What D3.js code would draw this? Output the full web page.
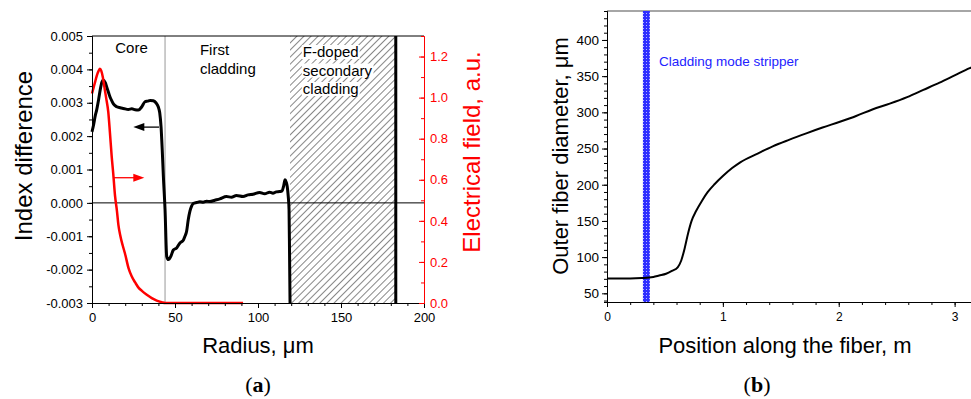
<!DOCTYPE html>
<html>
<head>
<meta charset="utf-8">
<script src="https://cdn.jsdelivr.net/npm/d3@7"></script>
<style>
  body { margin: 0; background: #fff; }
  svg { display: block; font-family: "Liberation Sans", Arial, sans-serif; }
  .tick text { font-family: "Liberation Sans", Arial, sans-serif; }
</style>
</head>
<body>
<div id="chart"></div>
<script>
'use strict';

// ---- panel (a): index profile and mode field ----
const radius = [0, 1, 2, 2.8, 4, 5, 6, 6.8, 8, 9, 10, 10.8, 12, 13, 14.9, 17, 19, 21.9, 24, 26, 27.9, 30, 31.9, 33.5, 35, 36.9, 38.5, 39.9, 40.8, 41.6, 42.3, 43, 44, 45, 46, 47.5, 49, 51, 53, 55, 56, 57, 58, 59, 60, 61, 63, 65, 67, 69, 71, 74, 77, 81, 84, 87, 91, 94, 97, 101, 104, 107, 109, 111, 113, 114.5, 115.5, 116.3, 117, 117.6, 118.2, 118.7, 119, 119.3];
const indexDiff = [0.00213, 0.00235, 0.00262, 0.00278, 0.00310, 0.00340, 0.00362, 0.00368, 0.00360, 0.00345, 0.00330, 0.00318, 0.00305, 0.00296, 0.00288, 0.00285, 0.00283, 0.00280, 0.00282, 0.00279, 0.00278, 0.00288, 0.00303, 0.00305, 0.00307, 0.00306, 0.00300, 0.00288, 0.00270, 0.00228, 0.00160, 0.00079, -0.00020, -0.00160, -0.00170, -0.00160, -0.00141, -0.00135, -0.00120, -0.00112, -0.00100, -0.00085, -0.00050, -0.00025, -0.00010, -0.00002, 0.00001, 0.00003, 0.00002, 0.00005, 0.00004, 0.00008, 0.00012, 0.00019, 0.00017, 0.00022, 0.00019, 0.00024, 0.00026, 0.00031, 0.00027, 0.00032, 0.00029, 0.00033, 0.00034, 0.00036, 0.00052, 0.00069, 0.00062, 0.00049, 0.00020, -0.00020, -0.00150, -0.00300];

const fieldRadius = [0, 1, 2, 3, 4, 4.8, 5.6, 6.5, 7.5, 8.5, 9.8, 10.8, 11.8, 12.8, 13.9, 15, 15.9, 17, 18.5, 19.9, 22, 23.9, 26, 28, 29.9, 33, 36, 39, 42, 44, 50, 60, 70, 80, 91];
const fieldValue = [1.02, 1.05, 1.08, 1.11, 1.13, 1.14, 1.13, 1.10, 1.05, 1.00, 0.93, 0.83, 0.72, 0.63, 0.52, 0.45, 0.38, 0.33, 0.28, 0.24, 0.17, 0.13, 0.10, 0.075, 0.06, 0.04, 0.024, 0.012, 0.004, 0, 0, 0, 0, 0, 0];

const coreEdge = 44;
const fDopedRegion = [119.3, 183];
const radiusTicks = [0, 50, 100, 150, 200];
const indexTicks = [-0.003, -0.002, -0.001, 0, 0.001, 0.002, 0.003, 0.004, 0.005];
const fieldTicks = [0, 0.2, 0.4, 0.6, 0.8, 1.0, 1.2];
// arrows: [r from, r to, value]
const blackArrow = [40.4, 24.9, 0.00227];
const redArrow = [12.8, 31.5, 0.61];

// ---- panel (b): taper diameter ----
const position = [0, 0.1, 0.2, 0.3, 0.4, 0.45, 0.51, 0.56, 0.61, 0.64, 0.67, 0.70, 0.73, 0.77, 0.82, 0.87, 0.93, 1.0, 1.08, 1.15, 1.3, 1.43, 1.57, 1.72, 1.86, 2.01, 2.15, 2.29, 2.44, 2.59, 2.73, 2.87, 3.0, 3.13, 3.16];
const diameter = [70.5, 70.5, 70.5, 71, 72.5, 74.5, 77, 81, 86, 95, 112, 133, 150, 164, 178, 190, 201, 212, 223, 231, 243, 253, 262, 271, 279, 287, 295, 304, 312, 321, 331, 341, 351, 361, 363];
const stripperRegion = [0.31, 0.37];
const positionTicks = [0, 1, 2, 3];
const diameterTicks = [50, 100, 150, 200, 250, 300, 350, 400];

const svg = d3.select("#chart").append("svg")
    .attr("width", 971)
    .attr("height", 399);

const defs = svg.append("defs");

const hatch = defs.append("pattern")
    .attr("id", "hatch")
    .attr("patternUnits", "userSpaceOnUse")
    .attr("width", 5).attr("height", 5)
    .attr("patternTransform", "rotate(45)");
hatch.append("rect").attr("width", 5).attr("height", 5).attr("fill", "#fff");
hatch.append("line")
    .attr("x1", 0).attr("y1", 0).attr("x2", 0).attr("y2", 5)
    .attr("stroke", "#222").attr("stroke-width", 1.1);

const checker = defs.append("pattern")
    .attr("id", "checker")
    .attr("patternUnits", "userSpaceOnUse")
    .attr("width", 3).attr("height", 3);
checker.append("rect").attr("width", 3).attr("height", 3).attr("fill", "#2f2fff");
checker.append("rect").attr("x", 1).attr("y", 1).attr("width", 1).attr("height", 1).attr("fill", "#b8b8ff");

function minorTicks(lo, hi, step) {
    let out = [];
    let n = Math.round((hi - lo) / step);
    for (let i = 0; i <= n; i++) out.push(+(lo + i * step).toFixed(6));
    return out;
}

// =================== panel (a) ===================
const xA = d3.scaleLinear().domain([0, 200]).range([92, 424]);
const yA = d3.scaleLinear().domain([-0.003, 0.005]).range([303, 36]);
const yE = d3.scaleLinear().domain([0, 1.3]).range([303, 36]);

const gA = svg.append("g");

// hatched F-doped region
gA.append("rect")
    .attr("x", xA(fDopedRegion[0]))
    .attr("y", yA(0.005))
    .attr("width", xA(fDopedRegion[1]) - xA(fDopedRegion[0]))
    .attr("height", yA(-0.003) - yA(0.005))
    .attr("fill", "url(#hatch)");

// core boundary
gA.append("line")
    .attr("x1", xA(coreEdge)).attr("x2", xA(coreEdge))
    .attr("y1", yA(0.005)).attr("y2", yA(-0.003))
    .attr("stroke", "#999").attr("stroke-width", 1);

// zero line and top frame
gA.append("line")
    .attr("x1", xA(0)).attr("x2", xA(200))
    .attr("y1", yA(0)).attr("y2", yA(0))
    .attr("stroke", "#000").attr("stroke-width", 1);
gA.append("line")
    .attr("x1", xA(0)).attr("x2", xA(200))
    .attr("y1", yA(0.005)).attr("y2", yA(0.005))
    .attr("stroke", "#000").attr("stroke-width", 1);

// region labels
gA.append("text").attr("x", xA(14)).attr("y", 53)
    .attr("font-size", 15).text("Core");
gA.append("text").attr("x", xA(65)).attr("y", 55)
    .attr("font-size", 15).text("First");
gA.append("text").attr("x", xA(65)).attr("y", 74)
    .attr("font-size", 15).text("cladding");

["F-doped", "secondary", "cladding"].forEach(function (t, i) {
    let txt = gA.append("text")
        .attr("x", xA(127)).attr("y", 57 + i * 18.5)
        .attr("font-size", 15).text(t);
    let bb = txt.node().getBBox();
    gA.insert("rect", function () { return txt.node(); })
        .attr("x", bb.x - 1).attr("y", bb.y + 2)
        .attr("width", bb.width + 2).attr("height", bb.height - 3)
        .attr("fill", "#fff");
});

// curves
const lineIdx = d3.line()
    .x(function (d, i) { return xA(radius[i]); })
    .y(function (d) { return yA(d); })
    .curve(d3.curveMonotoneX);
gA.append("path")
    .attr("d", lineIdx(indexDiff))
    .attr("fill", "none").attr("stroke", "#000").attr("stroke-width", 3);

gA.append("line")
    .attr("x1", xA(fDopedRegion[1])).attr("x2", xA(fDopedRegion[1]))
    .attr("y1", yA(-0.003)).attr("y2", yA(0.005))
    .attr("stroke", "#000").attr("stroke-width", 3);

const lineField = d3.line()
    .x(function (d, i) { return xA(fieldRadius[i]); })
    .y(function (d) { return yE(d); })
    .curve(d3.curveMonotoneX);
gA.append("path")
    .attr("d", lineField(fieldValue))
    .attr("fill", "none").attr("stroke", "#ff0000").attr("stroke-width", 2.5);

// arrows
function arrow(g, x1, x2, y, color) {
    let dir = x2 > x1 ? 1 : -1;
    g.append("line")
        .attr("x1", x1).attr("x2", x2 - dir * 6)
        .attr("y1", y).attr("y2", y)
        .attr("stroke", color).attr("stroke-width", 1.3);
    g.append("path")
        .attr("d", "M" + x2 + "," + y + "L" + (x2 - dir * 11) + "," + (y - 4) + "L" + (x2 - dir * 11) + "," + (y + 4) + "Z")
        .attr("fill", color);
}
arrow(gA, xA(blackArrow[0]), xA(blackArrow[1]), yA(blackArrow[2]), "#000");
arrow(gA, xA(redArrow[0]), xA(redArrow[1]), yE(redArrow[2]), "#ff0000");

// axes
function styleAxis(g, color) {
    g.selectAll("path").attr("stroke", color);
    g.selectAll("line").attr("stroke", color);
    g.selectAll("text").attr("fill", color);
}

const axA_xMinor = gA.append("g").attr("transform", "translate(0," + yA(-0.003) + ")")
    .call(d3.axisBottom(xA).tickValues(minorTicks(0, 200, 10)).tickSize(3).tickFormat(""));
styleAxis(axA_xMinor, "#000");
const axA_x = gA.append("g").attr("transform", "translate(0," + yA(-0.003) + ")")
    .call(d3.axisBottom(xA).tickValues(radiusTicks).tickSize(5).tickSizeOuter(0).tickPadding(5).tickFormat(d3.format("d")));
axA_x.selectAll("text").attr("font-size", 13);
styleAxis(axA_x, "#000");

const axA_yMinor = gA.append("g").attr("transform", "translate(" + xA(0) + ",0)")
    .call(d3.axisLeft(yA).tickValues(minorTicks(-0.003, 0.005, 0.0005)).tickSize(3).tickFormat(""));
styleAxis(axA_yMinor, "#000");
const axA_y = gA.append("g").attr("transform", "translate(" + xA(0) + ",0)")
    .call(d3.axisLeft(yA).tickValues(indexTicks).tickSize(5).tickSizeOuter(0).tickPadding(4)
        .tickFormat(function (d) { return d3.format(".3f")(d).replace("−", "-"); }));
axA_y.selectAll("text").attr("font-size", 13);
styleAxis(axA_y, "#000");

const axA_rMinor = gA.append("g").attr("transform", "translate(" + xA(200) + ",0)")
    .call(d3.axisRight(yE).tickValues(minorTicks(0, 1.3, 0.1)).tickSize(-3).tickFormat(""));
styleAxis(axA_rMinor, "#ff0000");
const axA_r = gA.append("g").attr("transform", "translate(" + xA(200) + ",0)")
    .call(d3.axisRight(yE).tickValues(fieldTicks).tickSize(-5).tickSizeOuter(0).tickPadding(6).tickFormat(d3.format(".1f")));
axA_r.selectAll("text").attr("font-size", 13);
styleAxis(axA_r, "#ff0000");

// titles
gA.append("text")
    .attr("x", xA(100)).attr("y", 353)
    .attr("text-anchor", "middle").attr("font-size", 22)
    .text("Radius, μm");
gA.append("text")
    .attr("transform", "translate(32," + 156 + ") rotate(-90)")
    .attr("text-anchor", "middle").attr("font-size", 24)
    .text("Index difference");
gA.append("text")
    .attr("transform", "translate(480," + 152 + ") rotate(-90)")
    .attr("text-anchor", "middle").attr("font-size", 24)
    .attr("fill", "#ff0000")
    .text("Electrical field, a.u.");
gA.append("text")
    .attr("x", 258).attr("y", 392)
    .attr("text-anchor", "middle").attr("font-size", 22)
    .attr("font-family", "'Liberation Serif', 'DejaVu Serif', serif")
    .html("(<tspan font-weight='bold'>a</tspan>)");

// =================== panel (b) ===================
const xB = d3.scaleLinear().domain([0, 3.15]).range([607, 972]);
const yB = d3.scaleLinear().domain([38, 440]).range([302, 11]);

const gB = svg.append("g");

gB.append("line")
    .attr("x1", xB(0)).attr("x2", xB(3.15))
    .attr("y1", yB(440)).attr("y2", yB(440))
    .attr("stroke", "#888").attr("stroke-width", 1.5);

gB.append("rect")
    .attr("x", xB(stripperRegion[0]))
    .attr("y", yB(440))
    .attr("width", xB(stripperRegion[1]) - xB(stripperRegion[0]))
    .attr("height", yB(38) - yB(440))
    .attr("fill", "url(#checker)");

gB.append("text")
    .attr("x", 659).attr("y", 66)
    .attr("font-size", 13.5).attr("fill", "#2222ff")
    .text("Cladding mode stripper");

const lineDia = d3.line()
    .x(function (d, i) { return xB(position[i]); })
    .y(function (d) { return yB(d); })
    .curve(d3.curveMonotoneX);
gB.append("path")
    .attr("d", lineDia(diameter))
    .attr("fill", "none").attr("stroke", "#000").attr("stroke-width", 2);

const axB_xMinor = gB.append("g").attr("transform", "translate(0," + yB(38) + ")")
    .call(d3.axisBottom(xB).tickValues(minorTicks(0, 3.2, 0.2)).tickSize(3).tickFormat(""));
styleAxis(axB_xMinor, "#000");
const axB_x = gB.append("g").attr("transform", "translate(0," + yB(38) + ")")
    .call(d3.axisBottom(xB).tickValues(positionTicks).tickSize(5).tickSizeOuter(0).tickPadding(5).tickFormat(d3.format("d")));
axB_x.selectAll("text").attr("font-size", 12);
styleAxis(axB_x, "#000");

const axB_yMinor = gB.append("g").attr("transform", "translate(" + xB(0) + ",0)")
    .call(d3.axisLeft(yB).tickValues(minorTicks(40, 440, 10)).tickSize(3).tickFormat(""));
styleAxis(axB_yMinor, "#000");
const axB_y = gB.append("g").attr("transform", "translate(" + xB(0) + ",0)")
    .call(d3.axisLeft(yB).tickValues(diameterTicks).tickSize(5).tickSizeOuter(0).tickPadding(3).tickFormat(d3.format("d")));
axB_y.selectAll("text").attr("font-size", 13.5);
styleAxis(axB_y, "#000");

gB.append("text")
    .attr("x", 785).attr("y", 353)
    .attr("text-anchor", "middle").attr("font-size", 22)
    .text("Position along the fiber, m");
gB.append("text")
    .attr("transform", "translate(568," + 156 + ") rotate(-90)")
    .attr("text-anchor", "middle").attr("font-size", 22)
    .text("Outer fiber diameter, μm");
gB.append("text")
    .attr("x", 757).attr("y", 392)
    .attr("text-anchor", "middle").attr("font-size", 22)
    .attr("font-family", "'Liberation Serif', 'DejaVu Serif', serif")
    .html("(<tspan font-weight='bold'>b</tspan>)");
</script>
</body>
</html>
